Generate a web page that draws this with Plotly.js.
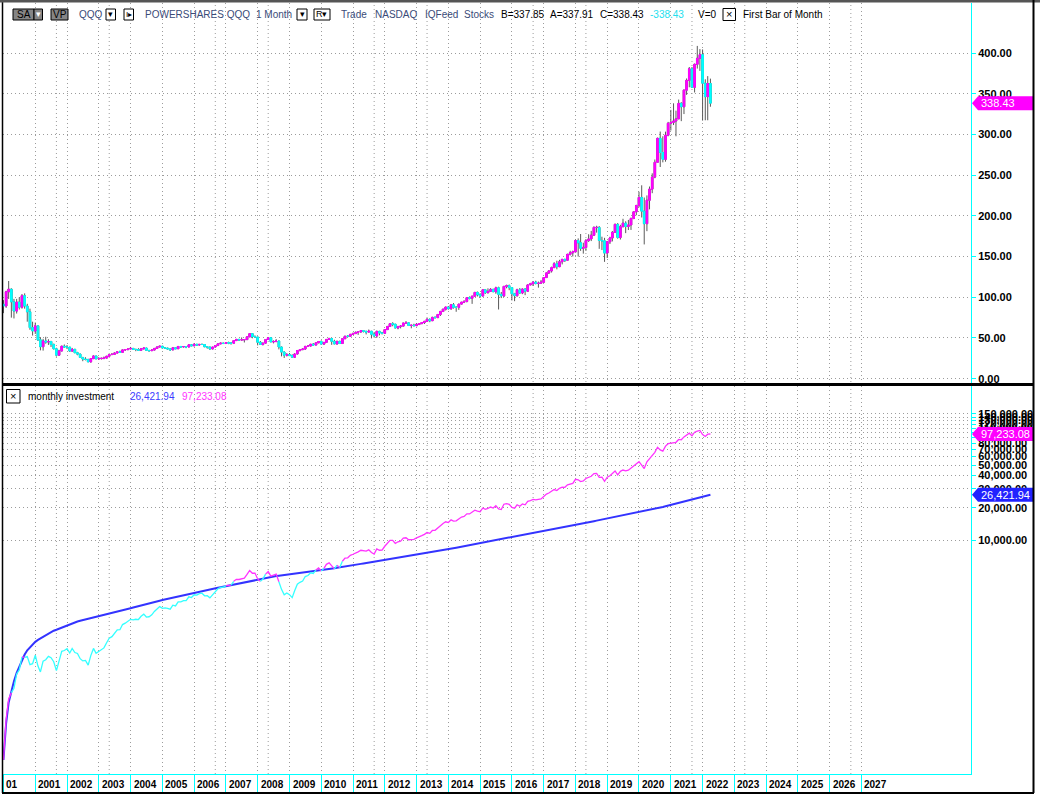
<!DOCTYPE html>
<html><head><meta charset="utf-8">
<script src="https://cdn.plot.ly/plotly-3.0.1.min.js"></script>
<style>html,body{margin:0;padding:0;background:#fff;}#chart{width:1040px;height:796px;}</style>
</head><body><div id="chart"></div>
<script>
// ---------------- DATA (monthly QQQ bars, Jan 2000 .. Apr 2022) ----------------
const firstYear = 2000, firstMonth = 1;
const opens = [
 91.4,89.3,106.7,109.9,94.4,83.1,94.1,87.8,101.9,89.3,82.1,62.7,
 58.6,64.9,47.7,39.3,46.4,45,45.7,42.1,36.7,28.9,34.1,39.9,
 38.9,38.8,34,36.1,31.9,30.2,26.1,24.1,23.6,20.7,24.6,27.9,
 24.4,24.6,25.1,25.3,27.6,29.6,29.9,31.5,33,32.4,35.4,35.7,
 36.5,37.2,36.1,35.8,34.9,36.7,37.7,34.8,34.4,35.2,37.2,39,
 39.9,37.8,37.6,36.6,35.4,38,36.8,39.6,39,39.5,38.9,41.6,
 40.4,42.3,41.4,42.1,42,39.2,38.8,36.6,38.9,40.7,42.8,43.6,
 43.2,44.2,43.7,43.6,46.8,48.3,47.6,47.7,48,51.4,55.3,51.6,
 51.2,44.7,42,43.7,48.1,50.3,45.2,45.6,46.3,38.9,32.7,28.8,
 29.7,28.4,26.4,30.3,34.6,35.7,36.4,39.7,40.2,42.3,41.3,44.1,
 45.7,42.5,44.6,48.2,49.3,45.9,42.7,45.9,43.2,49.1,52.2,52.1,
 54.5,55.4,57,57.4,59,58.3,57.2,58.3,54.6,52.5,58.1,56.1,
 55.8,60.3,64.2,67.5,67,62.3,64.2,64.6,68.4,68.6,65.3,65.7,
 65.1,66.8,67.6,69,70.5,72.9,71.2,75.3,75,78.9,82.6,85.4,
 88,86,90.7,87.7,87.6,91.6,94,94.9,99.5,98.8,101.4,106,
 103.2,101.5,109.2,105.6,107.3,109.7,106.8,111.6,103.6,101.7,113.4,114.3,
 111.9,104.3,102,109.2,105.3,110.1,107.5,115.2,116.6,118.7,116.9,117.3,
 118.5,124.2,129.9,132.4,136.4,141.2,137.6,143.6,146.6,145.5,152.7,154.6,
 155.8,169.6,166.9,160.1,161.2,169.6,171.6,176.2,185.8,185.8,169.8,169.3,
 154.3,168.2,172.8,179.7,189.5,173.5,186.7,191,187,188.8,196.7,204.9,
 212.6,222.6,205.8,190.4,219.2,232.8,247.6,265.8,295.2,277.8,269.4,299,
 313.7,314.8,316.4,319.1,338.1,334,354.4,366.4,380.6,357.9,386.1,393.5,
 397.9,362.9,346.4,362.5
];
const highs = [
 96.5,108,120,111,98,98,100,104,104.8,92,86,70,
 69,65,51,49,51.5,48.5,46.5,43,38,35.5,40.5,42,
 41.3,38.9,37.8,36.5,33,30.8,26.7,26.3,24.5,25,28.6,28,
 26.5,25.6,27.2,28,30.2,31.5,32.3,33.3,34.5,35.7,36.1,36.7,
 39,37.7,36.5,37.5,37,38,37.9,35,35.9,37.3,39.3,40.3,
 39.9,38.8,38,37.1,38.3,38.7,40,40,40.1,39.9,42.1,42.4,
 43.3,42.6,42.6,43.2,42.3,39.6,39.4,39,40.8,42.9,44.3,44.4,
 45,45.5,44.3,47,48.7,48.8,50.7,48.2,51.6,55.4,55.6,53.2,
 51.2,46.3,44.3,48.5,51,50.8,47.1,48.6,46.7,39.5,33.5,31.4,
 31.5,30,31.3,35.3,36.1,37.6,40.2,41,42.7,43.8,44.4,46.3,
 47,44.9,48.4,50.3,50.1,47.8,46.5,46.6,49.4,52.5,53.6,54.6,
 56.7,57.9,57.6,59.4,59.7,58.4,60.4,58.7,57.2,59,58.8,57.5,
 60.6,64.5,67.9,69.4,67.2,64.4,65.9,68.5,70.8,68.7,66,67.5,
 68.3,68,69.4,70.9,74.5,74,76.1,76.6,79.3,83.3,85.8,88.3,
 89.3,91.4,92.9,88.7,91.9,94.3,96.3,99.8,101,101.6,106.5,107,
 105,109.6,110.2,111,111.2,110.4,113,113,106.5,113.5,115.5,115.6,
 112.5,105.4,110.5,111.4,110.8,111.1,116,117.7,119.3,120.3,119.3,121.3,
 124.5,130.2,133.2,137.6,143.1,144.9,146,147,147.2,153.5,157.1,157.3,
 171,172.3,177.7,167,171.5,177.4,181.5,187.1,187.8,187.4,174.4,173,
 169.2,174.3,181.4,190.5,191.1,189,196.4,193.3,195,198,205.7,213.6,
 229.6,237.5,222.5,225.1,236,252.2,269.2,296.1,303.5,297.7,303.4,315.4,
 330.1,338.2,329.2,342.8,339.6,355.2,368.7,382.8,382.8,387,408.7,404.8,
 404.4,367.7,371.6,368.5
];
const lows = [
 80.5,87,98,75,74,80,85,86,86,70,60,53,
 55,46.5,34.8,34.5,43,41.5,39,36,27.2,28.5,33.5,38,
 36.4,32.9,33.2,31.4,28.8,25.5,21.5,22.5,20.5,19.8,24.4,24,
 24,23.7,23.9,25,27.3,29.2,29.6,31.2,32,32.4,34.2,35,
 36.4,35.8,33.8,34.5,34,36,34.3,33.2,34.1,34.8,37.1,38.4,
 37.1,37.1,35.9,34.3,35.1,36.6,36.7,38.3,38.4,37.5,38.8,40.2,
 40.2,40.3,40.6,41.5,38.8,36.9,35.5,36.1,38.5,40.3,42.4,42.6,
 43,42.4,41.8,43.5,46.5,46.6,47.2,44.5,47.6,51.1,49.6,50.1,
 40.9,41.7,40.8,43,47.6,45,43.4,44.9,36,27.4,25.5,27.3,
 27.9,25.8,25.6,29.8,33.5,35.1,35.5,38.9,39.6,41,41.2,43.5,
 42.2,41.6,44.6,48,41.6,42.5,41.8,42.7,43.4,48.7,51,52,
 54,55.1,53.8,56.5,56.8,54.4,57,49.5,51.3,50.2,53.3,54.3,
 55.6,60,63.9,64.4,61.9,60.7,61.8,64.3,68,65,61.9,64.4,
 64.7,65.8,67.2,67.2,70.3,69.4,71,73.9,74.8,77,81.8,83.8,
 84.9,84.5,86.1,82.2,84.5,91.3,92.9,93.7,97.4,91.9,101.3,101,
 99.5,101.3,104.1,104.7,106.5,106.4,104.3,85,99,100.3,111,108.7,
 96.1,95.2,100.7,104.4,103.8,102.6,107,114.9,113.9,115.8,111.8,116.8,
 118,123.9,128.7,130.4,136,134.3,137,140.4,143.3,145.2,151.3,150.1,
 155,150,157,153.6,157,168,169,175.5,179.4,159.5,158,143.5,
 148.2,165.4,168.6,179.3,172,170.9,186,178.8,182.6,182.7,196,200.8,
 210.4,198,164.9,181.2,208,227.8,246.2,265.6,260,265.7,266.5,297.7,
 304.8,311.5,297.7,319,316.3,325,348.6,357.9,357.3,351.5,380.9,378,
 317,317.4,317.4,334
];
const closes = [
 89.3,106.7,109.9,94.4,83.1,94.1,87.8,101.9,89.3,82.1,62.7,58.6,
 64.9,47.7,39.3,46.4,45,45.7,42.1,36.7,28.9,34.1,39.9,38.9,
 38.8,34,36.1,31.9,30.2,26.1,24.1,23.6,20.7,24.6,27.9,24.4,
 24.6,25.1,25.3,27.6,29.6,29.9,31.5,33,32.4,35.4,35.7,36.5,
 37.2,36.1,35.8,34.9,36.7,37.7,34.8,34.4,35.2,37.2,39,39.9,
 37.8,37.6,36.6,35.4,38,36.8,39.6,39,39.5,38.9,41.6,40.4,
 42.3,41.4,42.1,42,39.2,38.8,36.6,38.9,40.7,42.8,43.6,43.2,
 44.2,43.7,43.6,46.8,48.3,47.6,47.7,48,51.4,55.3,51.6,51.2,
 44.7,42,43.7,48.1,50.3,45.2,45.6,46.3,38.9,32.7,28.8,29.7,
 28.4,26.4,30.3,34.6,35.7,36.4,39.7,40.2,42.3,41.3,44.1,45.7,
 42.5,44.6,48.2,49.3,45.9,42.7,45.9,43.2,49.1,52.2,52.1,54.5,
 55.4,57,57.4,59,58.3,57.2,58.3,54.6,52.5,58.1,56.1,55.8,
 60.3,64.2,67.5,67,62.3,64.2,64.6,68.4,68.6,65.3,65.7,65.1,
 66.8,67.6,69,70.5,72.9,71.2,75.3,75,78.9,82.6,85.4,88,
 86,90.7,87.7,87.6,91.6,94,94.9,99.5,98.8,101.4,106,103.2,
 101.5,109.2,105.6,107.3,109.7,106.8,111.6,103.6,101.7,113.4,114.3,111.9,
 104.3,102,109.2,105.3,110.1,107.5,115.2,116.6,118.7,116.9,117.3,118.5,
 124.2,129.9,132.4,136.4,141.2,137.6,143.6,146.6,145.5,152.7,154.6,155.8,
 169.6,166.9,160.1,161.2,169.6,171.6,176.2,185.8,185.8,169.8,169.3,154.3,
 168.2,172.8,179.7,189.5,173.5,186.7,191,187,188.8,196.7,204.9,212.6,
 222.6,205.8,190.4,219.2,232.8,247.6,265.8,295.2,277.8,269.4,299,313.7,
 314.8,316.4,319.1,338.1,334,354.4,366.4,380.6,357.9,386.1,393.5,397.9,
 362.9,346.4,362.5,338.43
];
// lower panel: "monthly investment" – amount invested (blue) and value of holdings
const invested = [
 89.3,196.0,305.9,400.3,483.4,577.5,665.3,767.2,856.5,938.6,1001.3,1059.9,
 1124.8,1172.5,1211.8,1258.2,1303.2,1348.9,1391.0,1427.7,1456.6,1490.7,1530.6,1569.5,
 1608.3,1642.3,1678.4,1710.3,1740.5,1766.6,1790.7,1814.3,1835.0,1859.6,1887.5,1911.9,
 1936.5,1961.6,1986.9,2014.5,2044.1,2074.0,2105.5,2138.5,2170.9,2206.3,2242.0,2278.5,
 2315.7,2351.8,2387.6,2422.5,2459.2,2496.9,2531.7,2566.1,2601.3,2638.5,2677.5,2717.4,
 2755.2,2792.8,2829.4,2864.8,2902.8,2939.6,2979.2,3018.2,3057.7,3096.6,3138.2,3178.6,
 3220.9,3262.3,3304.4,3346.4,3385.6,3424.4,3461.0,3499.9,3540.6,3583.4,3627.0,3670.2,
 3714.4,3758.1,3801.7,3848.5,3896.8,3944.4,3992.1,4040.1,4091.5,4146.8,4198.4,4249.6,
 4294.3,4336.3,4380.0,4428.1,4478.4,4523.6,4569.2,4615.5,4654.4,4687.1,4715.9,4745.6,
 4774.0,4800.4,4830.7,4865.3,4901.0,4937.4,4977.1,5017.3,5059.6,5100.9,5145.0,5190.7,
 5233.2,5277.8,5326.0,5375.3,5421.2,5463.9,5509.8,5553.0,5602.1,5654.3,5706.4,5760.9,
 5816.3,5873.3,5930.7,5989.7,6048.0,6105.2,6163.5,6218.1,6270.6,6328.7,6384.8,6440.6,
 6500.9,6565.1,6632.6,6699.6,6761.9,6826.1,6890.7,6959.1,7027.7,7093.0,7158.7,7223.8,
 7290.6,7358.2,7427.2,7497.7,7570.6,7641.8,7717.1,7792.1,7871.0,7953.6,8039.0,8127.0,
 8213.0,8303.7,8391.4,8479.0,8570.6,8664.6,8759.5,8859.0,8957.8,9059.2,9165.2,9268.4,
 9369.9,9479.1,9584.7,9692.0,9801.7,9908.5,10020.1,10123.7,10225.4,10338.8,10453.1,10565.0,
 10669.3,10771.3,10880.5,10985.8,11095.9,11203.4,11318.6,11435.2,11553.9,11670.8,11788.1,11906.6,
 12030.8,12160.7,12293.1,12429.5,12570.7,12708.3,12851.9,12998.5,13144.0,13296.7,13451.3,13607.1,
 13776.7,13943.6,14103.7,14264.9,14434.5,14606.1,14782.3,14968.1,15153.9,15323.7,15493.0,15647.3,
 15815.5,15988.3,16168.0,16357.5,16531.0,16717.7,16908.7,17095.7,17284.5,17481.2,17686.1,17898.7,
 18121.3,18327.1,18517.5,18736.7,18969.5,19217.1,19482.9,19778.1,20055.9,20325.3,20624.3,20938.0,
 21252.8,21569.2,21888.3,22226.4,22560.4,22914.8,23281.2,23661.8,24019.7,24405.8,24799.3,25197.2,
 25560.1,25906.5,26269.0,26421.94
];
const portfolio = [
 89.3,213.4,329.7,377.6,415.5,564.6,614.6,815.2,803.7,821,689.7,703.2,
 843.7,667.8,589.5,742.4,765,822.6,799.9,734,606.9,750.2,917.7,933.6,
 970,884,974.7,893.2,875.8,783,747.1,755.2,683.1,836.4,976.5,878.4,
 910.2,953.8,986.7,1104,1213.6,1255.8,1354.5,1452,1458,1628.4,1677.9,1752,
 1822.8,1805,1825.8,1814.8,1945.1,2035.8,1914,1926.4,2006.4,2157.6,2301,2394,
 2305.8,2331.2,2305.8,2265.6,2470,2428.8,2653.2,2652,2725.5,2723,2953.6,2908.8,
 3087.9,3063.6,3157.5,3192,3018.4,3026.4,2891.4,3112,3296.7,3509.6,3618.8,3628.8,
 3757,3758.2,3793.2,4118.4,4298.7,4284,4340.7,4416,4780.2,5198.2,4902,4915.2,
 4335.9,4116,4326.3,4810,5080.3,4610.4,4696.8,4815.2,4084.5,3466.2,3081.6,3207.6,
 3095.6,2904,3363.3,3875.2,4034.1,4149.6,4565.5,4663.2,4949.1,4873.4,5247.9,5484,
 5142.5,5441.2,5928.6,6113.2,5737.5,5380.2,5829.3,5529.6,6333.9,6786,6825.1,7194,
 7368.2,7638,7749,8024,7987.1,7893.6,8103.7,7644,7402.5,8250.2,8022.3,8035.2,
 8743.5,9373.2,9922.5,9916,9282.7,9630,9754.6,10396.8,10495.8,10056.2,10183.5,10155.6,
 10487.6,10680.8,10971,11280,11736.9,11534.4,12273.9,12300,13018.5,13711.6,14261.8,14784,
 14534,15419,14996.7,15067.2,15846.8,16356,16607.5,17512,17487.6,18049.2,18974,18576,
 18371.5,19874.4,19324.8,19743.2,20294.5,19864.8,20869.2,19476.8,19221.3,21546,21831.3,21484.8,
 20129.9,19788,21294,20638.8,21689.7,21285,22924.8,23320,23858.7,23613.8,23811.9,24174,
 25461,26759.4,27406.8,28371.2,29510.8,28896,30299.6,31079.2,30991.5,32677.8,33239,33652.8,
 36803.2,36384.2,35061.9,35464,37481.6,38095.2,39292.6,41619.2,41805,38374.8,38431.1,35180.4,
 38517.8,39744,41510.7,43964,40425.5,43687.8,44885,44132,44745.6,46814.6,48971.1,51024,
 53646.6,49803.6,46267.2,53484.8,57036,60909.6,65652.6,73209.6,69172.2,67350,75049,79052.4,
 79644.4,80365.6,81370.5,86553.6,85838,91435.2,94897.6,98956,93411.9,101158.2,103490.5,105045.6,
 96168.5,92142.4,96787.5,97233.08
];
const yearLabels = ['2001','2002','2003','2004','2005','2006','2007','2008','2009','2010','2011','2012','2013','2014',
  '2015','2016','2017','2018','2019','2020','2021','2022','2023','2024','2025','2026','2027'];
const priceTicks = [0,50,100,150,200,250,300,350,400];
const investTicks = [10000,20000,30000,40000,50000,60000,70000,80000,90000,100000,110000,120000,130000,140000,150000];
const quoteBid = '337.85', quoteAsk = '337.91';

// ---------------- helpers ----------------
const FONT = '"Liberation Sans", Arial, sans-serif';
const MAG = '#ff00ff', CYA = '#00ffff', BLUE = '#3333ff', GRID = '#9c9c9c', DOT = '1px,3px';
const PL = 3, PR = 971, PT = 3, PB = 774;
const px = p => (p - PL) / (PR - PL);
const py = p => (PB - p) / (PB - PT);
const dates = closes.map((_, i) => {
  const k = firstMonth - 1 + i;
  const y = firstYear + Math.floor(k / 12), m = k % 12 + 1;
  return y + '-' + String(m).padStart(2, '0') + '-01';
});
const yearTickVals = ['2000-01-01'].concat(yearLabels.map(y => y + '-01-01'));
const fmt = (v) => v.toLocaleString('en-US', {minimumFractionDigits: 2, maximumFractionDigits: 2});
const n = closes.length;
const lastClose = closes[n - 1], lastInv = invested[n - 1], lastVal = portfolio[n - 1];

// ---------------- traces ----------------
const traces = [];
traces.push({type: 'candlestick', x: dates, open: opens, high: highs, low: lows, close: closes,
  xaxis: 'x2', yaxis: 'y', whiskerwidth: 0, hoverinfo: 'skip', showlegend: false,
  increasing: {line: {color: '#5a5a5a', width: 1}, fillcolor: '#5a5a5a'},
  decreasing: {line: {color: '#5a5a5a', width: 1}, fillcolor: '#5a5a5a'}});
traces.push({type: 'candlestick', x: dates, open: opens, close: closes,
  high: opens.map((o, i) => Math.max(o, closes[i])), low: opens.map((o, i) => Math.min(o, closes[i])),
  xaxis: 'x2', yaxis: 'y', whiskerwidth: 0, hoverinfo: 'skip', showlegend: false,
  increasing: {line: {color: MAG, width: 1}, fillcolor: MAG},
  decreasing: {line: {color: CYA, width: 1}, fillcolor: CYA}});
traces.push({type: 'scatter', mode: 'lines', x: dates, y: invested, xaxis: 'x', yaxis: 'y2',
  line: {color: BLUE, width: 2}, hoverinfo: 'skip', showlegend: false});
// value line: magenta above the invested line, cyan below
const gain = portfolio.map((v, i) => v >= invested[i]);
let s = 0;
for (let i = 1; i <= n; i++) {
  if (i === n || gain[i] !== gain[s]) {
    const e = Math.min(i, n - 1);
    traces.push({type: 'scatter', mode: 'lines', x: dates.slice(s, e + 1), y: portfolio.slice(s, e + 1),
      xaxis: 'x', yaxis: 'y2', line: {color: gain[s] ? '#ff33ff' : '#33ffff', width: 1.3},
      hoverinfo: 'skip', showlegend: false});
    s = i;
  }
}

// ---------------- annotations & shapes ----------------
const ann = [], shp = [];
function txt(text, x, y, color, size, extra) {
  ann.push(Object.assign({text: text, xref: 'paper', yref: 'paper', x: px(x), y: py(y), xanchor: 'left',
    yanchor: 'middle', showarrow: false, font: {family: FONT, size: size || 10, color: color || '#000'}}, extra || {}));
}
function box(x0, x1, y0, y1, fill) {
  shp.push({type: 'rect', xref: 'paper', yref: 'paper', x0: px(x0), x1: px(x1), y0: py(y0), y1: py(y1),
    fillcolor: fill, line: {color: '#000', width: 1}, layer: 'above'});
}
function cline(x0, y0, x1, y1, color, w, dash) {
  shp.push({type: 'line', xref: 'paper', yref: 'paper', x0: px(x0), x1: px(x1), y0: py(y0), y1: py(y1),
    line: {color: color, width: w, dash: dash || 'solid'}, layer: 'above'});
}
const HC = '#3a4b78';
// header of the price panel
box(13, 34, 9, 20, '#858585'); txt('SA', 23.5, 14.5, '#000', 10, {xanchor: 'center'});
box(34, 42.5, 9, 20, '#858585'); txt('▾', 38.3, 14.5, '#fff', 9, {xanchor: 'center'});
box(51, 68, 9, 20, '#858585'); txt('VP', 59.5, 14.5, '#000', 10, {xanchor: 'center'});
txt('QQQ', 77, 14.5, HC);
box(106, 115.5, 9, 20, '#fff'); txt('▾', 110.8, 14.5, '#000', 9, {xanchor: 'center'});
box(124, 133.5, 9, 20, '#fff'); txt('I▸', 128.8, 14.5, '#000', 8, {xanchor: 'center'});
txt('POWERSHARES QQQ', 143, 14.5, HC);
txt('1 Month', 254, 14.5, HC);
box(297, 307, 9, 20, '#fff'); txt('▾', 302, 14.5, '#000', 9, {xanchor: 'center'});
box(314, 330, 9, 20, '#fff'); txt('R▾', 322, 14.5, '#000', 9, {xanchor: 'center'});
txt('Trade', 339, 14.5, HC);
txt('NASDAQ', 372.5, 14.5, HC);
txt('IQFeed', 422.5, 14.5, HC);
txt('Stocks', 461.5, 14.5, HC);
txt('B=' + quoteBid, 499, 14.5);
txt('A=' + quoteAsk, 548, 14.5);
txt('C=' + lastClose.toFixed(2), 597.5, 14.5);
txt('-' + lastClose.toFixed(2), 648, 14.5, '#22e0ee');
txt('V=0', 695.5, 14.5);
box(723, 735.5, 8.5, 20.5, '#fff'); txt('×', 729.2, 14.5, '#000', 11, {xanchor: 'center'});
txt('First Bar of Month', 741, 14.5);
// header of the lower panel
box(6.5, 20, 389.5, 403, '#fff'); txt('×', 13.2, 396, '#000', 11, {xanchor: 'center'});
txt('monthly investment', 26, 396);
txt(fmt(lastInv), 127.5, 396, '#3b3bff');
txt(fmt(lastVal), 180, 396, '#ff33ff');
// year labels on the date row
ann.push({text: '01', xref: 'x', yref: 'paper', x: '2000-01-01', y: py(784.5), xanchor: 'left', yanchor: 'middle',
  xshift: 1, showarrow: false, font: {family: FONT, size: 10, color: '#000', weight: 'bold'}});
yearLabels.forEach(y => ann.push({text: y, xref: 'x', yref: 'paper', x: y + '-01-01', y: py(784.5),
  xanchor: 'left', yanchor: 'middle', xshift: 1, showarrow: false,
  font: {family: FONT, size: 10, color: '#000', weight: 'bold'}}));
// extra dotted vertical grid lines
['2001-09-01','2003-05-01','2006-09-01','2008-05-01','2011-09-01','2013-05-01','2016-09-01','2018-05-01',
 '2021-09-01','2023-05-01','2026-09-01'].forEach(d => shp.push({type: 'line', xref: 'x', yref: 'paper',
  x0: d, x1: d, y0: 0, y1: 1, line: {color: GRID, width: 1, dash: DOT}, layer: 'below'}));
// last-value tags on the right axes
function tag(yref, yval, ytext, fill, label) {
  shp.push({type: 'path', xref: 'paper', yref: yref, xsizemode: 'pixel', ysizemode: 'pixel', xanchor: 1,
    yanchor: yval, path: 'M1,0 L7,7 L63,7 L63,-7 L7,-7 Z', fillcolor: fill, line: {width: 0}, layer: 'above'});
  ann.push({text: label, xref: 'paper', yref: yref, x: 1, y: ytext, xanchor: 'left', yanchor: 'middle',
    xshift: 8, showarrow: false, font: {family: FONT, size: 11, color: '#fff'}});
}
tag('y', lastClose, lastClose, '#ff00ff', lastClose.toFixed(2));
tag('y2', lastVal, Math.log10(lastVal), '#ff00ff', fmt(lastVal));
tag('y2', lastInv, Math.log10(lastInv), '#2222ff', fmt(lastInv));
// frame and panel separator
cline(2.5, 0, 2.5, 793, '#000', 1.5);
cline(0, 1.2, 1040, 1.2, '#555', 2.5);
cline(1033.5, 0, 1033.5, 793, '#000', 2);
cline(2, 793, 1034, 793, '#000', 2);
cline(3, 384.5, 1034, 384.5, '#000', 3);

const axisFont = {family: FONT, size: 11, color: '#000', weight: 'bold'};
const layout = {
  width: 1040, height: 796, margin: {l: PL, r: 1040 - PR, t: PT, b: 796 - PB, pad: 0},
  paper_bgcolor: '#fff', plot_bgcolor: '#fff', showlegend: false, boxgap: 0.05, dragmode: false,
  xaxis: {type: 'date', domain: [0, 1], anchor: 'y2', range: ['1999-12-27', '2030-06-13'],
    tickvals: yearTickVals, showticklabels: false, ticks: 'outside', ticklen: 18, tickcolor: CYA, tickwidth: 1,
    showline: true, linecolor: CYA, linewidth: 1, showgrid: true, gridcolor: GRID, griddash: DOT, gridwidth: 1,
    zeroline: false, rangeslider: {visible: false}, fixedrange: true},
  xaxis2: {type: 'date', matches: 'x', anchor: 'y', tickvals: yearTickVals, showticklabels: false, ticks: '',
    showline: false, showgrid: true, gridcolor: GRID, griddash: DOT, gridwidth: 1, zeroline: false,
    rangeslider: {visible: false}, fixedrange: true},
  yaxis: {domain: [py(383), 1], range: [-5.28, 461.4], side: 'right', tickvals: priceTicks, tickformat: '.2f',
    ticks: 'outside', ticklen: 4, tickcolor: CYA, showline: true, linecolor: CYA, linewidth: 1,
    showgrid: true, gridcolor: GRID, griddash: DOT, zeroline: false, tickfont: axisFont, fixedrange: true},
  yaxis2: {domain: [0, py(386)], type: 'log', range: [1.8192, 5.4352], side: 'right', tickvals: investTicks,
    tickformat: ',.2f', ticks: 'outside', ticklen: 4, tickcolor: CYA, showline: true, linecolor: CYA, linewidth: 1,
    showgrid: true, gridcolor: GRID, griddash: DOT, zeroline: false, tickfont: axisFont, fixedrange: true},
  annotations: ann, shapes: shp
};
Plotly.newPlot('chart', traces, layout, {staticPlot: true, displayModeBar: false});
</script></body></html>
